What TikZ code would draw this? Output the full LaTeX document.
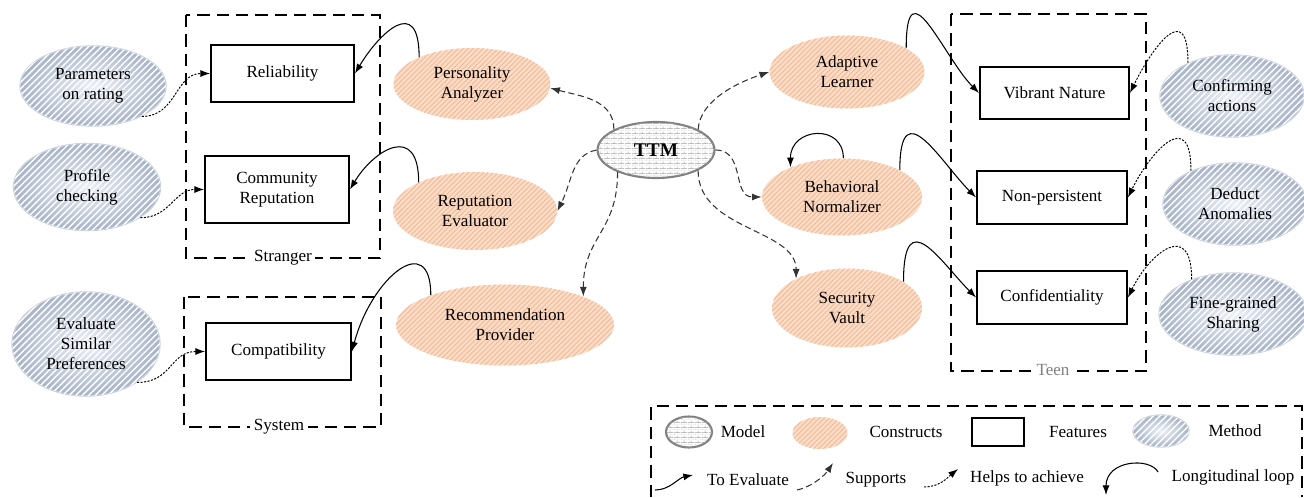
\documentclass[tikz,border=0pt]{standalone}
\usepackage{fontspec}
\setmainfont{Liberation Serif}
\usetikzlibrary{shapes.geometric}
\usetikzlibrary{arrows, arrows.meta}
\usetikzlibrary{patterns, patterns.meta}

\definecolor{salmon}{RGB}{251,221,200}
\definecolor{salmonline}{RGB}{242,187,153}
\definecolor{methodin}{RGB}{236,241,249}
\definecolor{methodout}{RGB}{166,178,199}
\definecolor{brickline}{RGB}{165,165,165}

% small brick texture for the model
\pgfdeclarepattern{
    name=smallbricks, type=uncolored,
    bottom left={\pgfpoint{0pt}{0pt}}, top right={\pgfpoint{4pt}{3pt}},
    tile size={\pgfpoint{4pt}{3pt}},
    code={
        \pgfsetlinewidth{0.3pt}
        \pgfpathmoveto{\pgfpoint{0pt}{0pt}}\pgfpathlineto{\pgfpoint{4pt}{0pt}}
        \pgfpathmoveto{\pgfpoint{0pt}{1.5pt}}\pgfpathlineto{\pgfpoint{4pt}{1.5pt}}
        \pgfpathmoveto{\pgfpoint{0pt}{0pt}}\pgfpathlineto{\pgfpoint{0pt}{1.5pt}}
        \pgfpathmoveto{\pgfpoint{2pt}{1.5pt}}\pgfpathlineto{\pgfpoint{2pt}{3pt}}
        \pgfusepath{stroke}
    }
}

\tikzset{
    construct/.style={ellipse, inner sep=0pt, align=center, fill=salmon,
        postaction={pattern={Lines[angle=45,distance=2pt,line width=0.6pt]}, pattern color=salmonline}},
    method/.style={ellipse, inner sep=0pt, align=center, draw=methodout!60, line width=0.8pt,
        inner color=methodin, outer color=methodout,
        postaction={pattern={Lines[angle=45,distance=2.6pt,line width=0.8pt]}, pattern color=white}},
    model/.style={ellipse, inner sep=0pt, draw=gray, line width=1.2pt, fill=white,
        postaction={pattern=smallbricks, pattern color=brickline}},
    feature/.style={rectangle, draw, line width=1.1pt, inner sep=0pt, align=center},
    group/.style={dash pattern=on 7pt off 4pt, line width=1.1pt},
    grouplabel/.style={fill=white, inner sep=2pt},
    evaluate/.style={-{Latex[length=5.5pt,width=4pt]}, line width=0.6pt},
    supports/.style={-{Latex[length=5.5pt,width=4pt]}, line width=0.6pt, dash pattern=on 3.5pt off 2pt, draw=black!80},
    helps/.style={-{Latex[length=5.5pt,width=4pt]}, line width=0.55pt, dash pattern=on 1.2pt off 0.8pt}
}

\begin{document}
\begin{tikzpicture}[x=0.02cm, y=0.02cm, font=\fontsize{9.7}{11.3}\selectfont]
        \useasboundingbox (0,0) rectangle (1304,-497);

        % user groups
        \draw [group] (186,-15) rectangle (380,-258);
        \draw [group] (184,-297) rectangle (381,-427);
        \draw [group] (951,-14) rectangle (1146,-371);
        \node [grouplabel] (stranger) at (283,-258) {Stranger};
        \node [grouplabel] (system) at (279,-427) {System};
        \node [grouplabel, text=gray] (teen) at (1053,-370) {Teen};

        \node [model, minimum width=2.34cm, minimum height=1.12cm, font=\fontsize{11}{13}\selectfont\bfseries] (ttm) at (656,-150) {TTM};

        % constructs
        \node [construct, minimum width=3.14cm, minimum height=1.44cm] (pa) at (472,-84) {Personality\\Analyzer};
        \node [construct, minimum width=3.28cm, minimum height=1.56cm] (re) at (475,-211) {Reputation\\Evaluator};
        \node [construct, minimum width=4.36cm, minimum height=1.62cm] (rp) at (505,-325) {Recommendation\\Provider};
        \node [construct, minimum width=3.1cm, minimum height=1.46cm] (al) at (847,-72) {Adaptive\\Learner};
        \node [construct, minimum width=3.2cm, minimum height=1.54cm] (bn) at (842,-197) {Behavioral\\Normalizer};
        \node [construct, minimum width=3.0cm, minimum height=1.58cm] (sv) at (847,-308) {Security\\Vault};

        % features
        \node [feature, minimum width=2.86cm, minimum height=1.14cm] (rel) at (282.5,-73.5) {Reliability};
        \node [feature, minimum width=2.88cm, minimum height=1.34cm] (cr) at (277,-189.5) {Community\\Reputation};
        \node [feature, minimum width=2.9cm, minimum height=1.14cm] (compat) at (278.5,-351.5) {Compatibility};
        \node [feature, minimum width=2.98cm, minimum height=1.04cm] (vn) at (1054.5,-93) {Vibrant Nature};
        \node [feature, minimum width=3.0cm, minimum height=1.06cm] (np) at (1052,-197.5) {Non-persistent};
        \node [feature, minimum width=3.0cm, minimum height=1.06cm] (conf) at (1052,-297.5) {Confidentiality};

        % methods
        \node [method, minimum width=2.92cm, minimum height=1.6cm] (par) at (93,-86) {Parameters\\on rating};
        \node [method, minimum width=2.94cm, minimum height=1.74cm] (prof) at (87,-187) {Profile\\checking};
        \node [method, minimum width=2.96cm, minimum height=2.08cm] (esp) at (86,-344) {Evaluate\\Similar\\Preferences};
        \node [method, minimum width=2.88cm, minimum height=1.64cm] (ca) at (1232,-96) {Confirming\\actions};
        \node [method, minimum width=2.88cm, minimum height=1.64cm] (da) at (1235,-204) {Deduct\\Anomalies};
        \node [method, minimum width=2.96cm, minimum height=1.64cm] (fg) at (1233,-314) {Fine-grained\\Sharing};

        % to evaluate
        \draw [evaluate] (pa.153) .. controls +(0,63) and +(24,40) .. (rel.east);
        \draw [evaluate] (re.153) .. controls +(0,60) and +(24,40) .. (cr.east);
        \draw [evaluate] (rp.158) .. controls +(0,65) and +(20,75) .. (compat.east);
        \draw [evaluate] (al.22) .. controls +(0,85) and +(-35,35) .. (vn.west);
        \draw [evaluate] (bn.25) .. controls +(0,80) and +(-35,35) .. (np.west);
        \draw [evaluate] (sv.25) .. controls +(0,80) and +(-35,35) .. (conf.west);
        \draw [evaluate] (bn.88) .. controls +(0,35) and +(0,40) .. (bn.150);

        % supports
        \draw [supports] (ttm.154) .. controls +(0,30) and +(30,-8) .. (pa.-3);
        \draw [supports] (ttm.west) .. controls +(-25,-5) and +(15,30) .. (re.east);
        \draw [supports] (ttm.-150) .. controls +(0,-60) and +(0,60) .. (rp.20);
        \draw [supports] (ttm.26) .. controls +(2,30) and +(-30,-10) .. (al.west);
        \draw [supports] (ttm.east) .. controls +(30,0) and +(-30,0) .. (bn.west);
        \draw [supports] (ttm.-26) .. controls +(0,-60) and +(0,50) .. (sv.150);

        % helps to achieve
        \draw [helps] (par.-32) .. controls +(35,0) and +(-35,0) .. (rel.west);
        \draw [helps] (prof.-30) .. controls +(30,0) and +(-30,0) .. (cr.west);
        \draw [helps] (esp.-37) .. controls +(35,0) and +(-35,0) .. (compat.west);
        \draw [helps] (ca.143) .. controls +(0,65) and +(22,45) .. (vn.east);
        \draw [helps] (da.143) .. controls +(0,65) and +(22,45) .. (np.east);
        \draw [helps] (fg.140) .. controls +(0,60) and +(22,45) .. (conf.east);

        % legend
        \draw [group] (651,-497) -- (651,-406) -- (1302,-406) -- (1302,-497);
        \node [model, minimum width=0.92cm, minimum height=0.62cm] (lmodel) at (689,-432) {};
        \node (lmodeltxt) at (743,-432) {Model};
        \node [construct, minimum width=1.1cm, minimum height=0.64cm] (lconstr) at (820,-433) {};
        \node (lconstrtxt) at (906,-432) {Constructs};
        \node [feature, minimum width=1.04cm, minimum height=0.56cm] (lfeat) at (998,-432) {};
        \node (lfeattxt) at (1078,-432) {Features};
        \node [method, minimum width=1.12cm, minimum height=0.64cm] (lmeth) at (1161,-431) {};
        \node (lmethtxt) at (1235,-431) {Method};

        \coordinate (lev0) at (655,-490);
        \coordinate (lev1) at (693,-475);
        \coordinate (lsup0) at (797,-490);
        \coordinate (lsup1) at (833,-463);
        \coordinate (lhlp0) at (924,-487);
        \coordinate (lhlp1) at (958,-469);
        \coordinate (lloop0) at (1158,-472);
        \coordinate (lloop1) at (1106,-495);
        \draw [evaluate] (lev0) .. controls +(15,0) and +(-15,-3) .. (lev1);
        \draw [supports] (lsup0) .. controls +(15,3) and +(-8,-12) .. (lsup1);
        \draw [helps] (lhlp0) .. controls +(16,0) and +(-10,-8) .. (lhlp1);
        \draw [evaluate] (lloop0) .. controls +(-8,15) and +(0,35) .. (lloop1);
        \node (levtxt) at (748,-480) {To Evaluate};
        \node (lsuptxt) at (876,-480) {Supports};
        \node (lhlptxt) at (1027,-478) {Helps to achieve};
        \node (llooptxt) at (1233,-477) {Longitudinal loop};
    \end{tikzpicture}
\end{document}
